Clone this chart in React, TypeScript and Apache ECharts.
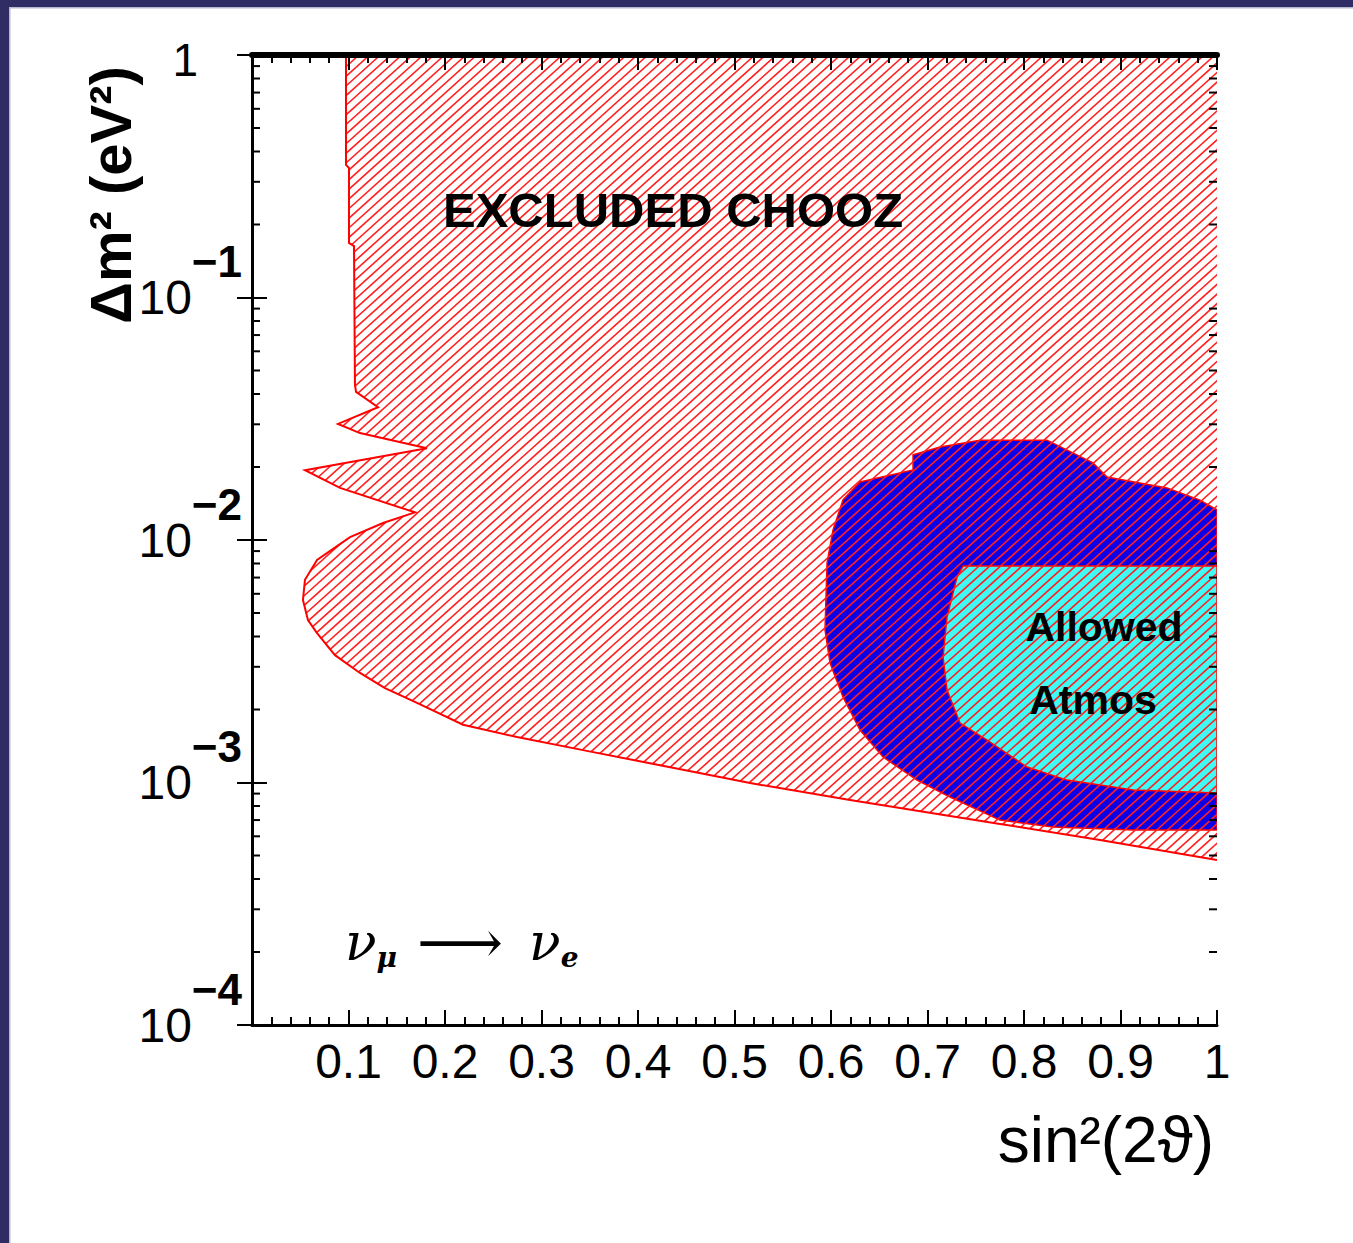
import React, { useEffect, useRef } from "react";
import * as echarts from "echarts";

// ---- axis ticks / labels ----
const xTickLabels = ["0.1", "0.2", "0.3", "0.4", "0.5", "0.6", "0.7", "0.8", "0.9", "1"];
const yDecadeExponents = [-4, -3, -2, -1, 0];
const yMinorMultipliers = [2, 3, 4, 5, 6, 7, 8, 9];

// ---- CHOOZ excluded region boundary (sin^2 2θ, Δm^2) ----
const choozX = [0.0974, 0.0974, 0.1005, 0.1005, 0.1057, 0.1067, 0.1078, 0.1306, 0.0891, 0.1119, 0.1813, 0.0549, 0.0912, 0.1689, 0.1358, 0.1016, 0.0674, 0.0549, 0.0528, 0.058, 0.0674, 0.086, 0.1119, 0.1378, 0.171, 0.2187, 0.2746, 0.343, 0.4124, 0.5161, 0.6197, 0.7751, 0.8788, 1.0];
const choozY = [1.0, 0.352, 0.342, 0.168, 0.163, 0.0436, 0.0408, 0.0353, 0.0301, 0.0276, 0.0239, 0.0194, 0.0164, 0.013, 0.01175, 0.01028, 0.00827, 0.00685, 0.00566, 0.00468, 0.00413, 0.00335, 0.00283, 0.00245, 0.00213, 0.00173, 0.00154, 0.00136, 0.0012, 0.000995, 0.000847, 0.000675, 0.000579, 0.000479];

// ---- Atmospheric allowed region, outer (90%) ----
const atmosOuterX = [0.7544, 0.8238, 0.8715, 0.886, 0.9482, 0.9824, 1.0, 1.0, 0.913, 0.8301, 0.7751, 0.7233, 0.6891, 0.6539, 0.6301, 0.6124, 0.599, 0.5938, 0.5959, 0.6021, 0.6124, 0.6301, 0.685, 0.685, 0.713];
const atmosOuterY = [0.0258, 0.0258, 0.0208, 0.0182, 0.0164, 0.0146, 0.0133, 0.000637, 0.000637, 0.000655, 0.0007, 0.000871, 0.001023, 0.001274, 0.001645, 0.002253, 0.003112, 0.004256, 0.008035, 0.01099, 0.01462, 0.01734, 0.01945, 0.02243, 0.02419];

// ---- Atmospheric allowed region, inner (68%) ----
const atmosInnerX = [0.7368, 1.0, 1.0, 0.913, 0.8446, 0.8031, 0.7617, 0.7337, 0.7202, 0.7161, 0.7202, 0.7306];
const atmosInnerY = [0.00781, 0.00781, 0.000905, 0.000931, 0.001023, 0.001158, 0.001497, 0.001758, 0.002406, 0.003296, 0.004813, 0.00703];

const FONT = '"Liberation Sans", Arial, Helvetica, sans-serif';
const SERIF = '"DejaVu Serif", "Liberation Serif", serif';
const HATCH_ANGLE = (42 * Math.PI) / 180;
const HATCH_STEP = 10.7;

function polygonSeries(name: string, xs: number[], ys: number[], fill: string) {
  return {
    type: "custom",
    name,
    silent: true,
    clip: true,
    z: 2,
    data: [[xs[0], ys[0]]],
    renderItem: (_p: any, api: any) => {
      const pts = xs.map((x, i) => api.coord([x, ys[i]]));
      return {
        type: "polygon",
        shape: { points: pts },
        style: { fill, stroke: "#ff0000", lineWidth: 1.5 },
      };
    },
  };
}

export default function App() {
  const ref = useRef<HTMLDivElement>(null);
  useEffect(() => {
    document.body.style.margin = "0";
    const chart = echarts.init(ref.current!, null, { renderer: "svg" });

    const yMinorValues: number[] = [];
    yDecadeExponents.slice(0, -1).forEach((e) =>
      yMinorMultipliers.forEach((m) => yMinorValues.push(m * Math.pow(10, e)))
    );

    const xAxisCommon = {
      type: "value",
      min: 0,
      max: 1,
      interval: 0.1,
      z: 10,
      splitLine: { show: false },
      axisTick: { inside: true, length: 15, lineStyle: { color: "#000", width: 2 } },
      minorTick: { show: true, splitNumber: 5, length: 8, lineStyle: { color: "#000", width: 2 } },
    };
    const yAxisCommon = {
      type: "log",
      logBase: 10,
      min: 1e-4,
      max: 1,
      z: 10,
      splitLine: { show: false },
      axisTick: { inside: true, length: 15, lineStyle: { color: "#000", width: 2 } },
    };

    const option: any = {
      animation: false,
      backgroundColor: "#ffffff",
      grid: { left: 252, top: 55, width: 965, height: 970 },
      xAxis: [
        {
          ...xAxisCommon,
          position: "bottom",
          axisLine: { lineStyle: { color: "#000", width: 3 } },
          axisLabel: {
            margin: 12,
            fontSize: 48,
            fontFamily: FONT,
            color: "#000",
            formatter: (v: number) => {
              const i = Math.round(v * 10);
              return i === 0 ? "" : xTickLabels[i - 1];
            },
          },
        },
        {
          ...xAxisCommon,
          position: "top",
          axisLine: { lineStyle: { color: "#000", width: 6 } },
          axisLabel: { show: false },
        },
      ],
      yAxis: [
        {
          ...yAxisCommon,
          position: "left",
          axisLine: { lineStyle: { color: "#000", width: 3 } },
          axisLabel: {
            margin: 10,
            color: "#000",
            fontFamily: FONT,
            formatter: (v: number) => {
              const e = Math.round(Math.log10(v));
              if (e === 0) return "{one|1}";
              return `{b|10}{s|\u2212${-e}}`;
            },
            rich: {
              one: { fontSize: 46, fontFamily: FONT, padding: [10, 44, 0, 0], verticalAlign: "middle" },
              b: { fontSize: 48, fontFamily: FONT, lineHeight: 48, verticalAlign: "middle" },
              s: { fontSize: 44, fontFamily: FONT, fontWeight: "bold", lineHeight: 44, padding: [0, 0, 72, 0], verticalAlign: "middle" },
            },
          },
        },
        {
          ...yAxisCommon,
          position: "right",
          axisLine: { lineStyle: { color: "#000", width: 3 } },
          axisLabel: { show: false },
        },
      ],
      series: [
        polygonSeries("Atmos 90%", atmosOuterX, atmosOuterY, "#0c00e8"),
        polygonSeries("Atmos 68%", atmosInnerX, atmosInnerY, "#40fbf5"),
        {
          type: "custom",
          name: "Excluded CHOOZ",
          silent: true,
          clip: true,
          z: 3,
          data: [[choozX[0], choozY[0]]],
          renderItem: (params: any, api: any) => {
            const pts = choozX.map((x, i) => api.coord([x, choozY[i]]));
            const poly = pts.concat([api.coord([1, 1])]);
            const cs = params.coordSys;
            const dx = cs.height / Math.tan(HATCH_ANGLE);
            const lines: any[] = [];
            for (let c = cs.x - dx; c <= cs.x + cs.width; c += HATCH_STEP) {
              lines.push({
                type: "line",
                shape: { x1: c, y1: cs.y + cs.height, x2: c + dx, y2: cs.y },
                style: { stroke: "#ff2020", lineWidth: 1.6 },
              });
            }
            return {
              type: "group",
              children: [
                { type: "group", clipPath: { type: "polygon", shape: { points: poly } }, children: lines },
                { type: "polyline", shape: { points: pts }, style: { stroke: "#ff0000", lineWidth: 2, fill: null } },
              ],
            };
          },
        },
        {
          type: "custom",
          name: "y minor ticks",
          silent: true,
          z: 11,
          data: yMinorValues.map((v) => [0, v]),
          renderItem: (params: any, api: any) => {
            const p = api.coord([0, api.value(1)]);
            const cs = params.coordSys;
            return {
              type: "group",
              children: [
                { type: "line", shape: { x1: cs.x, y1: p[1], x2: cs.x + 8, y2: p[1] }, style: { stroke: "#000", lineWidth: 2 } },
                { type: "line", shape: { x1: cs.x + cs.width - 8, y1: p[1], x2: cs.x + cs.width, y2: p[1] }, style: { stroke: "#000", lineWidth: 2 } },
              ],
            };
          },
        },
      ],
      graphic: [
        { type: "rect", z: 100, shape: { x: 0, y: 0, width: 1353, height: 7 }, style: { fill: "#2f2d63" } },
        { type: "rect", z: 100, shape: { x: 0, y: 0, width: 9, height: 1243 }, style: { fill: "#2f2d63" } },
        { type: "rect", z: 100, shape: { x: 9, y: 7, width: 1.5, height: 1236 }, style: { fill: "#b9b7d2" } },
        { type: "rect", z: 100, shape: { x: 9, y: 7, width: 1344, height: 1.5 }, style: { fill: "#b9b7d2" } },
        {
          type: "text",
          z: 100,
          x: 443,
          y: 210,
          style: { text: "EXCLUDED CHOOZ", fontSize: 49, fontWeight: "bold", fontFamily: FONT, fill: "#000", align: "left", verticalAlign: "middle" },
        },
        {
          type: "text",
          z: 100,
          x: 1104,
          y: 627,
          style: { text: "Allowed", fontSize: 41, fontWeight: "bold", fontFamily: FONT, fill: "#000", align: "center", verticalAlign: "middle" },
        },
        {
          type: "text",
          z: 100,
          x: 1093,
          y: 700,
          style: { text: "Atmos", fontSize: 41, fontWeight: "bold", fontFamily: FONT, fill: "#000", align: "center", verticalAlign: "middle" },
        },
        {
          type: "text",
          z: 100,
          x: 345,
          y: 942,
          style: {
            text: "{n|\u03bd}{m|\u03bc}{a|\u27f6}{n|\u03bd}{m|e}",
            align: "left",
            verticalAlign: "middle",
            rich: {
              n: { fontSize: 52, fontStyle: "italic", fontFamily: SERIF, fill: "#000", verticalAlign: "middle", lineHeight: 60 },
              m: { fontSize: 28, fontStyle: "italic", fontWeight: "bold", fontFamily: SERIF, fill: "#000", padding: [30, 0, 0, 0], verticalAlign: "middle", lineHeight: 30 },
              a: { fontSize: 60, fontFamily: SERIF, fill: "#000", verticalAlign: "middle", lineHeight: 60, padding: [0, 26, 0, 20] },
            },
          },
        },
        {
          type: "text",
          z: 100,
          x: 110,
          y: 195,
          rotation: Math.PI / 2,
          style: { text: "\u0394m\u00b2 (eV\u00b2)", fontSize: 58, fontWeight: "bold", fontFamily: FONT, fill: "#000", align: "center", verticalAlign: "middle" },
        },
        {
          type: "text",
          z: 100,
          x: 1214,
          y: 1140,
          style: { text: "sin\u00b2(2\u03d1)", fontSize: 64, fontFamily: FONT, fill: "#000", align: "right", verticalAlign: "middle" },
        },
      ],
    };

    chart.setOption(option);
    return () => chart.dispose();
  }, []);
  return <div ref={ref} style={{ width: 1353, height: 1243, background: "#fff" }} />;
}
